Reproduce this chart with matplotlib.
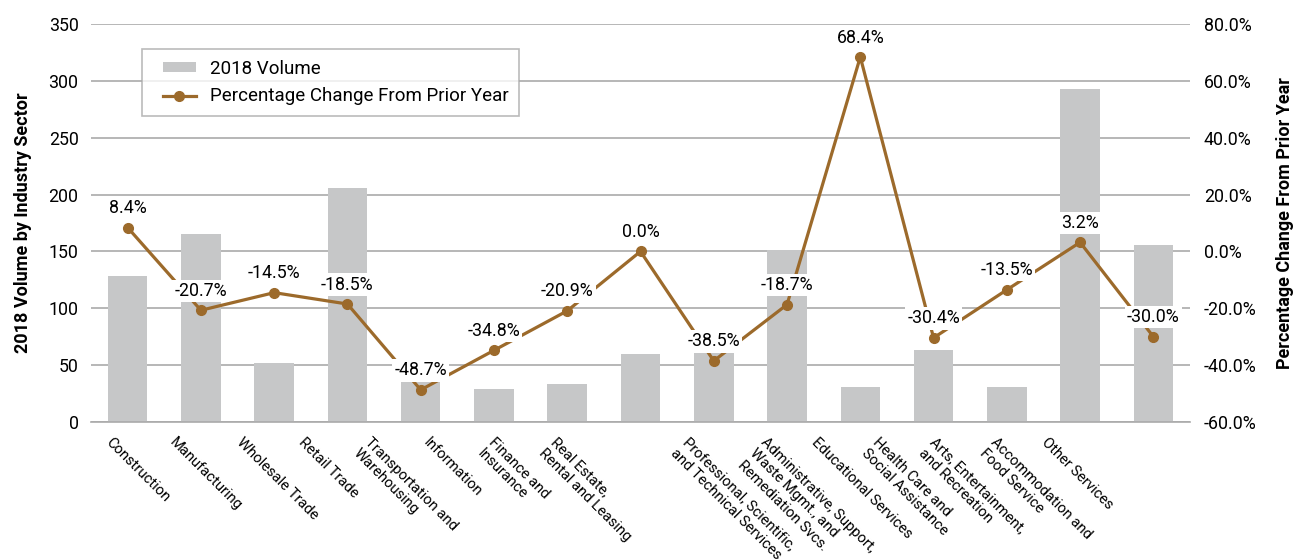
import matplotlib
matplotlib.use("Agg")
import matplotlib.pyplot as plt
import matplotlib.transforms as mtransforms
from matplotlib.lines import Line2D
from matplotlib.patches import Patch
from matplotlib.legend_handler import HandlerPatch, HandlerLine2D
import numpy as np

plt.rcParams['font.family'] = ['Roboto', 'DejaVu Sans']

sectors = [
    "Construction", "Manufacturing", "Wholesale Trade", "Retail Trade",
    "Transportation and\nWarehousing", "Information", "Finance and\nInsurance",
    "Real Estate,\nRental and Leasing", "Professional, Scientific,\nand Technical Services",
    "Administrative, Support,\nWaste Mgmt., and\nRemediation Svcs.",
    "Educational Services", "Health Care and\nSocial Assistance",
    "Arts, Entertainment,\nand Recreation", "Accommodation and\nFood Service",
    "Other Services",
]
volume_2018 = [128, 165, 52, 206, 39, 29, 33, 60, 65, 151, 31, 63, 31, 293, 156]
pct_change = [8.4, -20.7, -14.5, -18.5, -48.7, -34.8, -20.9, 0.0, -38.5, -18.7,
              68.4, -30.4, -13.5, 3.2, -30.0]

# horizontal nudge of each category label (in category widths)
label_shift = [-0.20, -0.33, -0.42, -0.57, -0.67, -0.87, -0.97, -1.13,
               -0.33, -0.26, -0.57, -0.73, -0.95, -1.12, -1.43]

bar_color = "#C6C7C8"
line_color = "#9C6A2B"
grid_color = "#AAAAAA"

fig = plt.figure(figsize=(12.96, 5.59), dpi=100)
ax = fig.add_axes([91 / 1296, 1 - 422 / 559, 1099 / 1296, 398 / 559])
ax2 = ax.twinx()

x = np.arange(len(sectors))
ax.bar(x, volume_2018, width=0.54, color=bar_color, zorder=2)
ax.set_xlim(-0.5, len(sectors) - 0.5)
ax.set_ylim(0, 350)
ax.set_yticks(range(0, 351, 50))
ax.yaxis.grid(True, color=grid_color, linewidth=1.2, zorder=0)
ax.set_axisbelow(True)
ax.set_xticks(x)
ax.set_xticklabels([])
ax.tick_params(axis='both', length=0)
ax.tick_params(axis='y', labelsize=12.8, pad=9)
for side in ("top", "right", "left"):
    ax.spines[side].set_visible(False)
ax.spines["bottom"].set_color(grid_color)
ax.spines["bottom"].set_linewidth(1.2)
ax.set_ylabel("2018 Volume by Industry Sector", fontsize=13, fontweight="bold", labelpad=12)

ax2.plot(x, pct_change, color=line_color, linewidth=2.3, marker="o", markersize=7, zorder=3)
ax2.set_ylim(-60, 80)
ax2.set_yticks(range(-60, 81, 20))
ax2.set_yticklabels([f"{v:.1f}%" for v in range(-60, 81, 20)])
ax2.tick_params(axis='y', length=0, labelsize=12.8, pad=10)
for side in ("top", "right", "left", "bottom"):
    ax2.spines[side].set_visible(False)
ax2.set_ylabel("Percentage Change From Prior Year", fontsize=13, fontweight="bold", labelpad=14)

# value labels above each point
for xi, v in zip(x, pct_change):
    ax2.annotate(f"{v:.1f}%", (xi, v), xytext=(0, 14), textcoords="offset points",
                 ha="center", va="center", fontsize=12.8, zorder=5,
                 bbox=dict(boxstyle="square,pad=0.12", facecolor="white", edgecolor="none"))

# rotated category labels
label_tf = mtransforms.offset_copy(ax.get_xaxis_transform(), fig=fig, x=0, y=-13, units="dots")
for xi, name, dx in zip(x, sectors, label_shift):
    ax.text(xi + dx, 0, name, transform=label_tf, rotation=-45, rotation_mode="anchor",
            ha="left", va="top", multialignment="left", fontsize=10.6)

handles = [
    Patch(facecolor=bar_color, edgecolor="none", label="2018 Volume"),
    Line2D([], [], color=line_color, linewidth=2.3, marker="o", markersize=7,
           label="Percentage Change From Prior Year"),
]
leg = ax2.legend(handles=handles, loc="upper left", bbox_to_anchor=(0.046, 0.936),
                 borderaxespad=0, fontsize=13.5, frameon=True, fancybox=False,
                 handlelength=2.35, handleheight=0.42, handletextpad=0.75,
                 labelspacing=0.5, borderpad=0.56,
                 handler_map={Patch: HandlerPatch(xpad=0.57),
                              Line2D: HandlerLine2D(xpad=0.57)})
leg.get_frame().set_edgecolor(grid_color)
leg.get_frame().set_linewidth(1.2)

fig.savefig("out.png", dpi=100)
